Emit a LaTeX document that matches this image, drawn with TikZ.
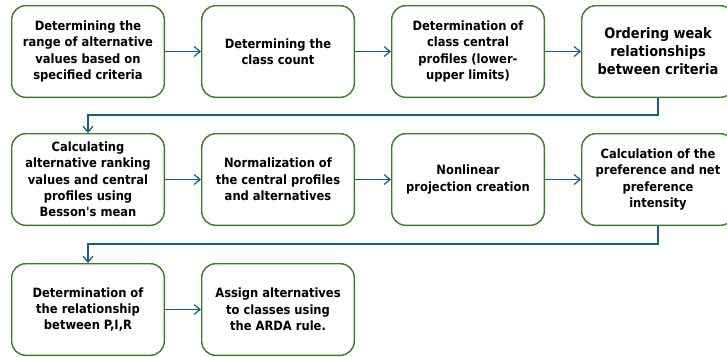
\documentclass[tikz,border=0pt]{standalone}
\usepackage{fontspec}
\setmainfont{DejaVu Sans Condensed}[Ligatures=TeXOff]
\usepackage{xcolor}
\usetikzlibrary{positioning,arrows.meta}
\definecolor{stageGreen}{RGB}{58, 125, 34}
\definecolor{flowBlue}{RGB}{21, 96, 130}

\begin{document}
\begin{tikzpicture}[x=1pt, y=1pt,
    stage/.style={draw=stageGreen, line width=1.4pt, rounded corners=14pt,
        minimum width=152.6pt, minimum height=91.6pt, align=center, inner sep=2pt,
        font=\bfseries\fontsize{12.8}{16.3}\selectfont},
    flow/.style={-{Straight Barb[length=6pt, width=10pt]}, flowBlue, line width=1.2pt}]
    \useasboundingbox (0,0) rectangle (727,-356);
    % first row
    \node[stage, anchor=north west] (range) at (11,-5) {Determining the\\range of alternative\\values based on\\specified criteria};
    \node[stage, right=36pt of range] (count) {Determining the\\class count};
    \node[stage, right=36pt of count] (profiles) {Determination of\\class central\\profiles (lower-\\upper limits)};
    \node[stage, right=36pt of profiles, font=\bfseries\fontsize{14.4}{18}\selectfont] (ordering) {Ordering weak\\relationships\\between criteria};
    % second row
    \node[stage, below=35pt of range] (ranking) {Calculating\\alternative ranking\\values and central\\profiles using\\Besson's mean};
    \node[stage, right=36pt of ranking] (normal) {Normalization of\\the central profiles\\and alternatives};
    \node[stage, right=36pt of normal] (projection) {Nonlinear\\projection creation};
    \node[stage, right=36pt of projection] (intensity) {Calculation of the\\preference and net\\preference\\intensity};
    % third row
    \node[stage, below=37pt of ranking] (relation) {Determination of\\the relationship\\between P,I,R};
    \node[stage, right=36pt of relation] (assign) {Assign alternatives\\to classes using\\the ARDA rule.};
    % connectors
    \draw[flow] (range) -- (count);
    \draw[flow] (count) -- (profiles);
    \draw[flow] (profiles) -- (ordering);
    \draw[flow] (ordering.south) -- ++(0,-17) -| (ranking.north);
    \draw[flow] (ranking) -- (normal);
    \draw[flow] (normal) -- (projection);
    \draw[flow] (projection) -- (intensity);
    \draw[flow] (intensity.south) -- ++(0,-18) -| (relation.north);
    \draw[flow] (relation) -- (assign);
\end{tikzpicture}
\end{document}
